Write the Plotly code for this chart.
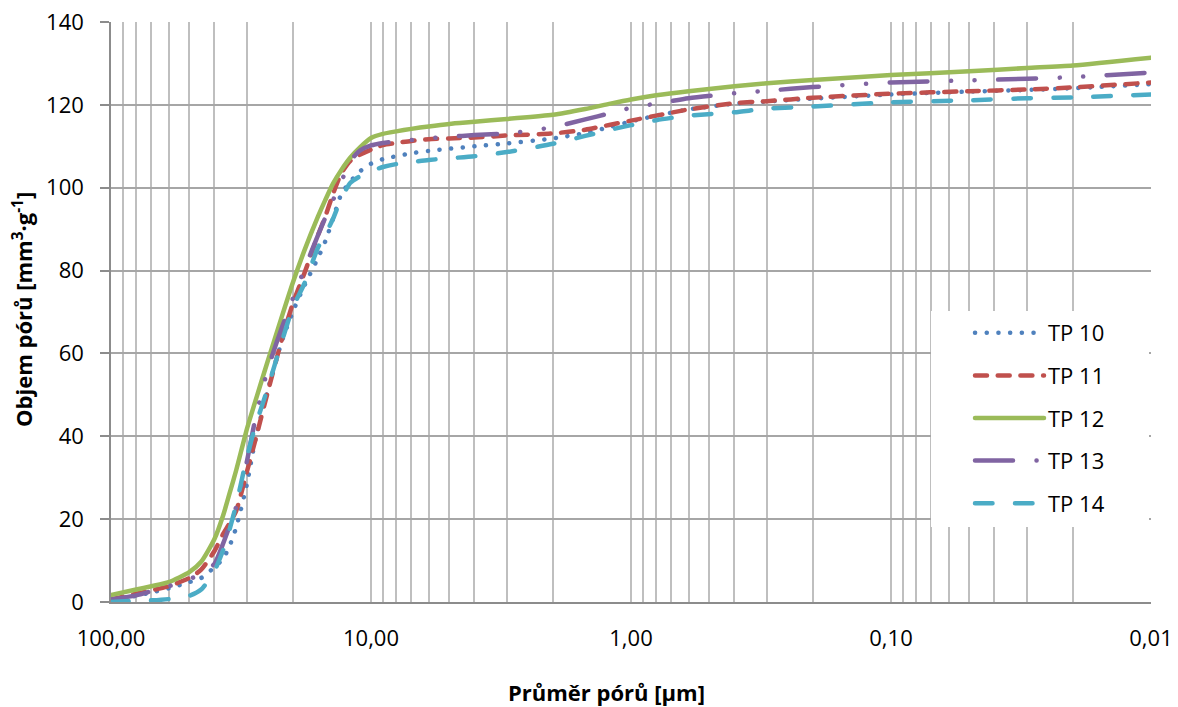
import plotly.graph_objects as go

# Pore diameter (µm) and cumulative pore volume (mm3/g) for each sample
diameter_um = [100, 80, 70, 60, 50, 45, 40, 37, 35, 33, 30, 28, 25, 22, 20, 18, 16, 15,
               14, 13, 12, 11, 10, 9, 8, 7, 6, 5, 4, 3, 2, 1.5, 1.2, 1, 0.8, 0.6, 0.4,
               0.3, 0.2, 0.1, 0.05, 0.03, 0.02, 0.01]

tp10 = [0.4, 1.5, 2.3, 3.3, 4.8, 5.8, 8.4, 10.5, 13.5, 18, 28.5, 38.5, 51, 63, 70, 76.5,
        83, 87, 92.5, 98.5, 101.5, 104, 105.8, 106.9, 107.6, 108.3, 108.9, 109.4, 110,
        110.7, 111.9, 113.2, 114.7, 116, 117.4, 118.9, 120.3, 120.8, 121.5, 122.5, 123.2,
        123.6, 124, 125]
tp11 = [0.6, 2.0, 2.8, 3.8, 5.8, 7.8, 12.3, 16.5, 19, 22, 31.5, 38.5, 50.5, 63.5, 72, 79.5,
        88.5, 93, 98.5, 103.5, 106.5, 108, 109.2, 110.3, 110.8, 111.3, 111.7, 111.9, 112.1,
        112.6, 113.1, 114, 115.2, 116.2, 117.4, 118.9, 120.4, 120.9, 121.7, 122.7, 123.3,
        123.7, 124.2, 125.4]
tp12 = [1.7, 3.0, 3.8, 4.8, 7.2, 9.7, 15.2, 21, 26.2, 31.8, 41.8, 48, 58, 69, 77, 85, 93,
        97, 101, 104.3, 107.3, 109.8, 112, 113, 113.6, 114.2, 114.8, 115.4, 115.9, 116.6,
        117.6, 119, 120.3, 121.3, 122.3, 123.3, 124.5, 125.2, 126, 127.2, 128.1, 128.9,
        129.5, 131.4]
tp13 = [0.6, 1.6, 2.6, 3.8, 5.5, 6.8, 9.2, 14.2, 18.3, 23, 34, 43.5, 56, 66.3, 73.2, 80.5,
        88.5, 92.7, 97, 101.5, 106.5, 109, 110.2, 110.8, 111.2, 111.5, 111.9, 112.3, 112.7,
        113.1, 114.6, 116.5, 118, 119.3, 120.3, 121.6, 122.8, 123.4, 124.3, 125.4, 125.9,
        126.3, 126.7, 127.8]
tp14 = [0, 0.3, 0.4, 0.7, 1.5, 3, 7.5, 12.6, 17.5, 23.5, 35, 42, 51.5, 63, 71, 77, 85.5,
        88.7, 92.5, 97.5, 101.2, 102.8, 104, 105, 105.7, 106.2, 106.7, 107.1, 107.6, 108.6,
        110.6, 112.5, 114, 115.1, 116.3, 117.4, 118.2, 119.1, 119.6, 120.6, 121.1, 121.6,
        121.8, 122.5]

series_names = ["TP 10", "TP 11", "TP 12", "TP 13", "TP 14"]
series_values = [tp10, tp11, tp12, tp13, tp14]

decade_ticks = [100, 10, 1, 0.1, 0.01]
decade_labels = ["100,00", "10,00", "1,00", "0,10", "0,01"]
y_ticks = [0, 20, 40, 60, 80, 100, 120, 140]

colors = ["#4F81BD", "#C0504D", "#9BBB59", "#8064A2", "#4BACC6"]
dashes = ["0.1px,11.6px", "12px,10.7px", "solid",
          "38px,23.5px,0.1px,23.5px,0.1px,23.5px", "17.5px,22.5px"]

FONT = "Open Sans"

# plot area in pixels
L, R, T, B = 111, 1151, 22, 602
W_AREA, H_AREA = R - L, B - T

# x grid: every integer multiple within each decade (log minor grid)
grid_vals = []
grid_text = []
for exp in [-2, -1, 0, 1]:
    for m in range(1, 10):
        grid_vals.append(m * 10 ** exp)
        grid_text.append("")
grid_vals.append(100)
grid_text.append("")
for v, lab in zip(decade_ticks, decade_labels):
    for i, g in enumerate(grid_vals):
        if abs(g - v) < 1e-9 * max(1, v):
            grid_text[i] = lab

fig = go.Figure()
for name, vals, col, dsh in zip(series_names, series_values, colors, dashes):
    fig.add_trace(go.Scatter(
        x=diameter_um, y=vals, name=name, mode="lines",
        line=dict(color=col, width=4.5, dash=dsh, shape="spline", smoothing=0.6),
        legendgroup=name,
    ))

# white box behind the legend
fig.add_shape(type="rect", xref="paper", yref="paper",
              x0=(931 - L) / W_AREA, x1=(1149 - L) / W_AREA,
              y0=(B - 527) / H_AREA, y1=(B - 311) / H_AREA,
              fillcolor="white", line=dict(width=0), layer="above")

# axis titles
fig.add_annotation(text="<b>Průměr pórů [µm]</b>", xref="paper", yref="paper",
                   x=(606 - L) / W_AREA, y=(B - 692) / H_AREA,
                   xanchor="center", yanchor="middle", showarrow=False,
                   font=dict(family=FONT, size=22, color="black"))
fig.add_annotation(text="<b>Objem pórů [mm<sup>3</sup>·g<sup>-1</sup>]</b>",
                   xref="paper", yref="paper",
                   x=(22 - L) / W_AREA, y=(B - 310) / H_AREA, textangle=-90,
                   xanchor="center", yanchor="middle", showarrow=False,
                   font=dict(family=FONT, size=22, color="black"))

fig.update_layout(
    width=1178, height=707,
    margin=dict(l=L, r=1178 - R, t=T, b=707 - B, autoexpand=False),
    paper_bgcolor="white", plot_bgcolor="white",
    font=dict(family=FONT, size=22, color="black"),
    showlegend=True,
    legend=dict(x=(958 - L) / W_AREA, y=(B - 312) / H_AREA, xanchor="left", yanchor="top",
                bgcolor="rgba(0,0,0,0)", borderwidth=0,
                font=dict(family=FONT, size=22, color="black"),
                traceorder="grouped", tracegroupgap=11, itemwidth=80),
    xaxis=dict(
        type="log", range=[2, -2], tickmode="array",
        tickvals=grid_vals, ticktext=grid_text, automargin=False,
        showgrid=True, gridcolor="#BFBFBF", gridwidth=1.5,
        showline=True, linecolor="#8C8C8C", linewidth=1.5,
        ticks="", ticklabelstandoff=16,
        tickfont=dict(family=FONT, size=22, color="black"),
        zeroline=False,
    ),
    yaxis=dict(
        range=[0, 140], tickmode="array", tickvals=y_ticks, automargin=False,
        showgrid=True, gridcolor="#A6A6A6", gridwidth=1.5,
        showline=True, linecolor="#8C8C8C", linewidth=1.5,
        ticks="outside", ticklen=9, tickcolor="#8C8C8C", tickwidth=1.5,
        ticklabelstandoff=12,
        tickfont=dict(family=FONT, size=22, color="black"),
        zeroline=False,
    ),
)

post = """
var gd = document.getElementsByClassName('plotly-graph-div')[0];
function roundCaps(){
  gd.querySelectorAll('.scatterlayer path.js-line').forEach(function(p){
    p.style.strokeLinecap = 'round';
  });
  gd.querySelectorAll('.legend .traces').forEach(function(g){
    var t = g.querySelector('text.legendtext');
    var tx = t ? parseFloat(t.getAttribute('x')) : 90;
    if (!isFinite(tx)) { tx = 90; }
    g.querySelectorAll('.legendlines path').forEach(function(p){
      p.setAttribute('d', 'M' + (tx - 73) + ',0h69');
      p.style.strokeLinecap = 'round';
    });
  });
}
roundCaps();
gd.on('plotly_afterplot', roundCaps);
setTimeout(roundCaps, 50);
setTimeout(roundCaps, 300);
"""

fig.write_html("out.html", post_script=post)
